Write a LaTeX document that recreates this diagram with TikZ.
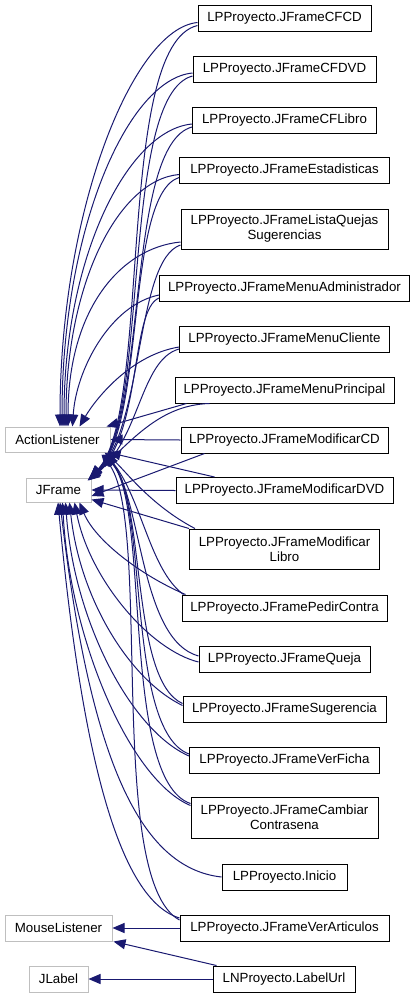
\documentclass[tikz,border=0pt]{standalone}
\usepackage{fontspec}
\setmainfont{Liberation Sans}
\usetikzlibrary{arrows.meta}
\definecolor{edgeblue}{RGB}{25,25,112}
\definecolor{extgray}{RGB}{191,191,191}
\begin{document}
\begin{tikzpicture}[x=1pt,y=-1pt,
  font=\fontsize{13.3pt}{15pt}\selectfont,
  cls/.style={draw=black,line width=1pt,fill=white,inner sep=0pt,align=center,minimum height=26pt},
  ext/.style={draw=extgray,line width=1pt,fill=white,inner sep=0pt,align=center,minimum height=26pt},
  inh/.style={draw=edgeblue,line width=1pt,-{Triangle[length=12pt,width=10pt]}}]
\useasboundingbox (0,0) rectangle (415,997);
% external parents
\node[ext,minimum width=105pt,minimum height=25pt] (AL) at (57.5,439.5) {ActionListener};
\node[ext,minimum width=65pt,minimum height=24pt] (JF) at (58.5,490) {JFrame};
\node[ext,minimum width=107pt] (ML) at (58.5,928) {MouseListener};
\node[ext,minimum width=59pt] (JL) at (58.5,979) {JLabel};
% classes
\node[cls,minimum width=173pt] (n1) at (284.5,18.5) {LPProyecto.JFrameCFCD};
\node[cls,minimum width=183pt] (n2) at (284.5,69) {LPProyecto.JFrameCFDVD};
\node[cls,minimum width=184pt] (n3) at (284.5,120) {LPProyecto.JFrameCFLibro};
\node[cls,minimum width=210pt] (n4) at (284.5,170.5) {LPProyecto.JFrameEstadisticas};
\node[cls,minimum width=207pt,minimum height=40pt] (n5) at (284.5,229) {LPProyecto.JFrameListaQuejas\\Sugerencias};
\node[cls,minimum width=250pt] (n6) at (284.5,288) {LPProyecto.JFrameMenuAdministrador};
\node[cls,minimum width=210pt] (n7) at (284.5,339) {LPProyecto.JFrameMenuCliente};
\node[cls,minimum width=219pt] (n8) at (284.5,390) {LPProyecto.JFrameMenuPrincipal};
\node[cls,minimum width=207pt] (n9) at (284.5,440) {LPProyecto.JFrameModificarCD};
\node[cls,minimum width=217pt] (n10) at (284.5,490.5) {LPProyecto.JFrameModificarDVD};
\node[cls,minimum width=190pt,minimum height=40pt] (n11) at (284.5,549) {LPProyecto.JFrameModificar\\Libro};
\node[cls,minimum width=205pt] (n12) at (284.5,608) {LPProyecto.JFramePedirContra};
\node[cls,minimum width=171pt] (n13) at (284.5,659) {LPProyecto.JFrameQueja};
\node[cls,minimum width=203pt] (n14) at (284.5,709.5) {LPProyecto.JFrameSugerencia};
\node[cls,minimum width=190pt] (n15) at (284.5,760) {LPProyecto.JFrameVerFicha};
\node[cls,minimum width=187pt,minimum height=41pt] (n16) at (284.5,817.5) {LPProyecto.JFrameCambiar\\Contrasena};
\node[cls,minimum width=125pt] (n17) at (284.5,877) {LPProyecto.Inicio};
\node[cls,minimum width=209pt] (n18) at (284.5,928) {LPProyecto.JFrameVerArticulos};
\node[cls,minimum width=142pt] (n19) at (284,979) {LNProyecto.LabelUrl};
% top group -> ActionListener
\draw[inh] ([yshift=-4pt]n1.west) .. controls (133,28.5) and (60,210) .. ([xshift=2.5pt]AL.north);
\draw[inh] ([yshift=-4pt]n2.west) .. controls (128,79) and (62,228) .. ([xshift=4.5pt]AL.north);
\draw[inh] ([yshift=-4pt]n3.west) .. controls (128,130) and (64,256) .. ([xshift=6.5pt]AL.north);
\draw[inh] ([yshift=-4pt]n4.west) .. controls (118,180) and (66,284) .. ([xshift=8.5pt]AL.north);
\draw[inh] ([yshift=-13pt]n5.west) .. controls (120,248) and (68,310) .. ([xshift=10.5pt]AL.north);
\draw[inh] ([yshift=-7pt]n6.west) .. controls (110,305) and (76,370) .. ([xshift=15pt]AL.north);
\draw[inh] ([yshift=-8pt]n7.west) .. controls (130,355) and (95,400) .. ([xshift=22pt]AL.north);
\draw[inh] ([xshift=12pt]n8.south west) -- ([xshift=-4pt]AL.north east);
% top group -> JFrame
\draw[inh] ([yshift=-7pt]n1.west) .. controls (115,45) and (152,410) .. ([xshift=-1pt]JF.north east);
\draw[inh] ([yshift=-7pt]n2.west) .. controls (120,95) and (150,415) .. ([xshift=-1pt]JF.north east);
\draw[inh] ([yshift=-7pt]n3.west) .. controls (125,145) and (148,420) .. ([xshift=-2pt,yshift=-1pt]JF.north east);
\draw[inh] ([yshift=-7pt]n4.west) .. controls (125,195) and (146,425) .. ([xshift=-2pt,yshift=-1pt]JF.north east);
\draw[inh] ([yshift=-16pt]n5.west) .. controls (135,260) and (144,430) .. ([xshift=-3pt,yshift=-2pt]JF.north east);
\draw[inh] ([yshift=-10pt]n6.west) .. controls (130,310) and (142,435) .. ([xshift=-3pt,yshift=-2pt]JF.north east);
\draw[inh] ([yshift=-10pt]n7.west) .. controls (140,360) and (140,440) .. ([xshift=-4pt,yshift=-3pt]JF.north east);
\draw[inh] ([xshift=35pt]n8.south west) .. controls (160,405) and (132,440) .. ([xshift=-3pt,yshift=-3pt]JF.north east);
% middle group
\draw[inh] (n9.west) -- (AL.east);
\draw[inh] ([xshift=24pt]n9.south west) -- ([yshift=-6pt]JF.east);
\draw[inh] (n10.west) -- (JF.east);
\draw[inh] ([xshift=39pt]n10.north west) -- ([xshift=-2pt]AL.south east);
\draw[inh] (n11.north west) -- ([yshift=3pt]JF.south east);
\draw[inh] ([xshift=6pt]n11.north west) .. controls (150,505) and (125,470) .. ([xshift=-6pt]AL.south east);
% bottom group -> JFrame
\draw[inh] ([xshift=4pt]n12.north west) .. controls (140,575) and (95,540) .. ([xshift=21pt]JF.south);
\draw[inh] ([yshift=-3pt]n13.west) .. controls (150,650) and (90,580) .. ([xshift=16pt]JF.south);
\draw[inh] ([yshift=4pt]n14.west) .. controls (130,680) and (80,600) .. ([xshift=11pt]JF.south);
\draw[inh] ([yshift=4pt]n15.west) .. controls (130,730) and (74,620) .. ([xshift=7pt]JF.south);
\draw[inh] ([yshift=12pt]n16.west) .. controls (130,780) and (70,640) .. ([xshift=4pt]JF.south);
\draw[inh] (n17.west) .. controls (140,868) and (90,760) .. ([xshift=1.5pt]JF.south);
\draw[inh] ([yshift=10pt]n18.west) .. controls (120,900) and (82,760) .. ([xshift=-0.5pt]JF.south);
% bottom group -> ActionListener
\draw[inh] ([xshift=2pt]n12.north west) .. controls (150,570) and (142,500) .. ([xshift=-4pt,yshift=-2pt]AL.south east);
\draw[inh] ([yshift=3pt]n13.west) .. controls (140,640) and (142,500) .. ([xshift=-5pt,yshift=-2pt]AL.south east);
\draw[inh] ([yshift=6pt]n14.west) .. controls (130,680) and (146,500) .. ([xshift=-6pt,yshift=-2pt]AL.south east);
\draw[inh] ([yshift=6pt]n15.west) .. controls (125,730) and (149,500) .. ([xshift=-7pt,yshift=-2pt]AL.south east);
\draw[inh] ([yshift=14pt]n16.west) .. controls (120,780) and (151,500) .. ([xshift=-8pt,yshift=-2pt]AL.south east);
\draw[inh] ([yshift=8pt]n18.west) .. controls (105,880) and (153,520) .. ([xshift=-9pt,yshift=-2pt]AL.south east);
% mouse listener / label
\draw[inh] (n18.west) -- (ML.east);
\draw[inh] ([xshift=4pt]n19.north west) -- ([xshift=1pt]ML.south east);
\draw[inh] (n19.west) -- (JL.east);
\end{tikzpicture}
\end{document}
